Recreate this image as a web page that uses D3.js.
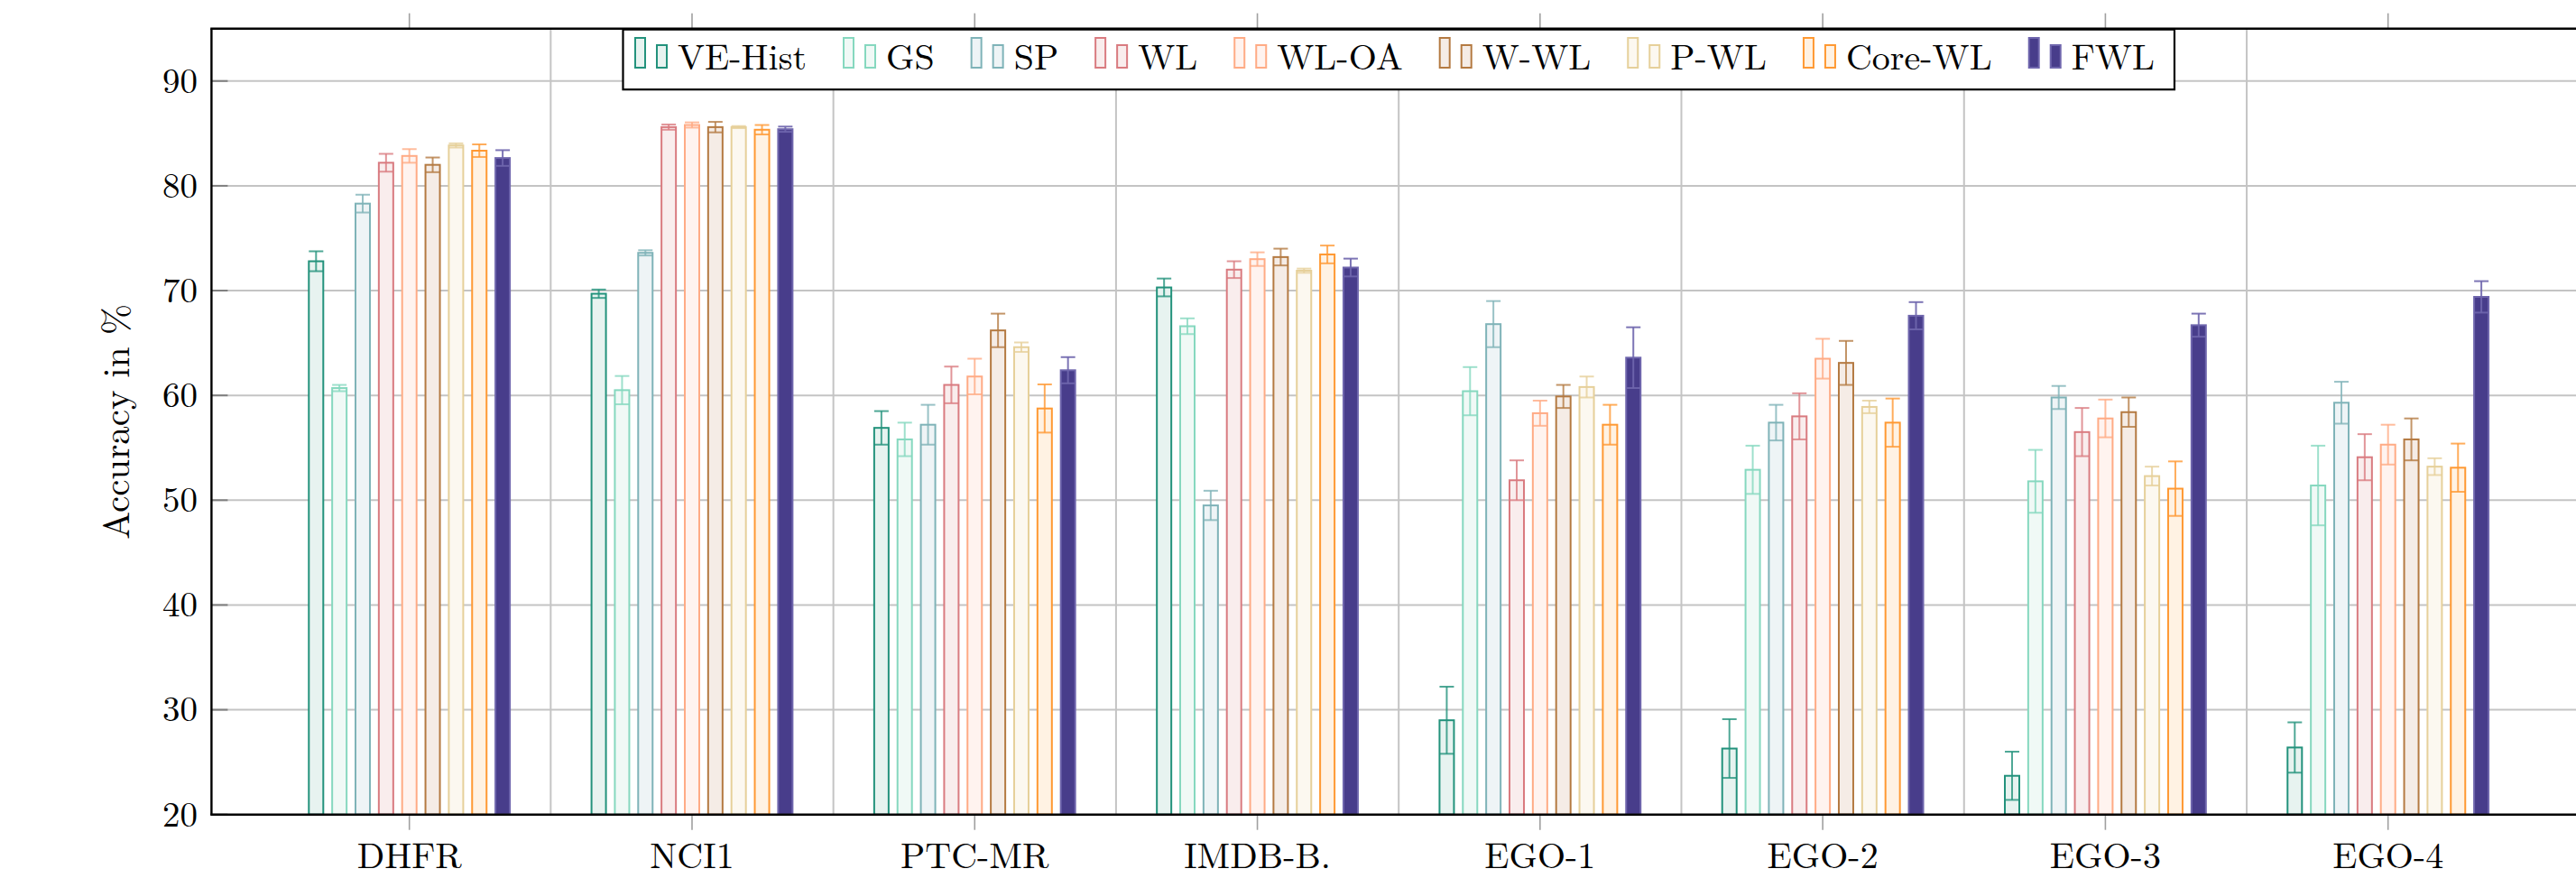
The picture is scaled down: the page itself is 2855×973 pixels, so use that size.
<!DOCTYPE html>
<html><head><meta charset="utf-8">
<script src="https://cdn.jsdelivr.net/npm/d3@7"></script>
<style>html,body{margin:0;padding:0;background:#fff;overflow:hidden} svg{display:block}</style>
</head><body>
<svg id="chart" width="2855" height="973"></svg>
<script>
// ---------------- data ----------------
const categories = ["DHFR", "NCI1", "PTC-MR", "IMDB-B.", "EGO-1", "EGO-2", "EGO-3", "EGO-4"];
const seriesNames = ["VE-Hist", "GS", "SP", "WL", "WL-OA", "W-WL", "P-WL", "Core-WL", "FWL"];

const veHist    = [72.8, 69.7, 56.9, 70.3, 29.0, 26.3, 23.7, 26.4];
const veHistErr = [0.95, 0.4, 1.6, 0.85, 3.2, 2.8, 2.3, 2.4];
const gs        = [60.7, 60.5, 55.8, 66.6, 60.4, 52.9, 51.8, 51.4];
const gsErr     = [0.3, 1.35, 1.6, 0.75, 2.3, 2.3, 3.0, 3.8];
const sp        = [78.3, 73.6, 57.2, 49.5, 66.8, 57.4, 59.8, 59.3];
const spErr     = [0.85, 0.25, 1.9, 1.4, 2.2, 1.7, 1.1, 2.0];
const wl        = [82.2, 85.6, 61.0, 72.0, 51.9, 58.0, 56.5, 54.1];
const wlErr     = [0.85, 0.25, 1.75, 0.8, 1.9, 2.2, 2.3, 2.2];
const wlOa      = [82.85, 85.8, 61.8, 73.0, 58.3, 63.5, 57.8, 55.3];
const wlOaErr   = [0.65, 0.25, 1.7, 0.65, 1.2, 1.9, 1.8, 1.9];
const wWl       = [82.0, 85.6, 66.2, 73.2, 59.9, 63.1, 58.4, 55.8];
const wWlErr    = [0.7, 0.5, 1.6, 0.8, 1.1, 2.1, 1.4, 2.0];
const pWl       = [83.85, 85.6, 64.6, 71.9, 60.8, 58.9, 52.3, 53.2];
const pWlErr    = [0.2, 0.1, 0.45, 0.2, 1.0, 0.6, 0.9, 0.8];
const coreWl    = [83.35, 85.35, 58.75, 73.45, 57.2, 57.4, 51.1, 53.1];
const coreWlErr = [0.6, 0.45, 2.3, 0.85, 1.9, 2.3, 2.6, 2.3];
const fwl       = [82.65, 85.4, 62.4, 72.2, 63.6, 67.6, 66.7, 69.4];
const fwlErr    = [0.75, 0.25, 1.25, 0.85, 2.9, 1.3, 1.1, 1.5];

const yTicks = [20, 30, 40, 50, 60, 70, 80, 90];
const yLabel = "Accuracy in %";

// ---------------- styles ----------------
const strokes = ["#23927c", "#86d8bf", "#7fb3b8", "#d97b80", "#ffab85", "#b47a42", "#e6d09a", "#ff9933", "#6f66ad"];
const fills   = ["#e7f3f0", "#f0f9f6", "#eef4f6", "#f9eded", "#fff3ef", "#f5ece6", "#fcf8f0", "#fff2e3", "#483d8b"];
const FONT = "'Latin Modern Roman','CMU Serif','Liberation Serif','Times New Roman',serif";

const means = [veHist, gs, sp, wl, wlOa, wWl, pWl, coreWl, fwl];
const errs  = [veHistErr, gsErr, spErr, wlErr, wlOaErr, wWlErr, pWlErr, coreWlErr, fwlErr];
const table = [];
seriesNames.forEach((s, j) => categories.forEach((c, i) => {
  table.push({ series: s, sj: j, cat: c, ci: i, v: means[j][i], e: errs[j][i] });
}));

// ---------------- layout ----------------
const svg = d3.select("#chart");
const L = 234.4, T = 31.7, B = 902.7, R = 2866;
const x = d3.scaleLinear().domain([-0.7, categories.length - 1 + 0.7]).range([L, R]);
const xs = d3.scalePoint().domain(seriesNames).range([-4 * 25.85, 4 * 25.85]);
const y = d3.scaleLinear().domain([20, 95]).range([B, T]);
const barW = 16;

// horizontal grid
svg.append("g").selectAll("line").data(yTicks.slice(1)).join("line")
  .attr("x1", L).attr("x2", 2855).attr("y1", d => y(d)).attr("y2", d => y(d))
  .attr("stroke", "#c4c4c4").attr("stroke-width", 2);
// vertical minor grid (between categories)
svg.append("g").selectAll("line").data(d3.range(categories.length - 1)).join("line")
  .attr("x1", d => x(d + 0.5)).attr("x2", d => x(d + 0.5)).attr("y1", T).attr("y2", B)
  .attr("stroke", "#c4c4c4").attr("stroke-width", 2);

// bars
const bars = svg.append("g");
bars.selectAll("rect").data(table).join("rect")
  .attr("x", d => x(d.ci) + xs(d.series) - barW / 2)
  .attr("width", barW)
  .attr("y", d => y(d.v))
  .attr("height", d => B - y(d.v))
  .attr("fill", d => fills[d.sj])
  .attr("stroke", d => strokes[d.sj])
  .attr("stroke-width", 2);

// error bars
const eg = svg.append("g");
const cap = 8;
table.forEach(d => {
  const cx = x(d.ci) + xs(d.series);
  const col = strokes[d.sj];
  const g = eg.append("g").attr("stroke", col).attr("stroke-width", 2).attr("stroke-opacity", d.sj === 8 ? 0.9 : 0.8);
  g.append("line").attr("x1", cx).attr("x2", cx).attr("y1", y(d.v - d.e)).attr("y2", y(d.v + d.e));
  g.append("line").attr("x1", cx - cap).attr("x2", cx + cap).attr("y1", y(d.v + d.e)).attr("y2", y(d.v + d.e));
  g.append("line").attr("x1", cx - cap).attr("x2", cx + cap).attr("y1", y(d.v - d.e)).attr("y2", y(d.v - d.e));
});

// y ticks (inward)
svg.append("g").selectAll("line").data(yTicks).join("line")
  .attr("x1", L).attr("x2", L + 18).attr("y1", d => y(d)).attr("y2", d => y(d))
  .attr("stroke", "#808080").attr("stroke-width", 2);
// x ticks (outward, top and bottom)
const xt = svg.append("g").attr("stroke", "#a0a0a0").attr("stroke-width", 1.6);
categories.forEach((c, i) => {
  xt.append("line").attr("x1", x(i)).attr("x2", x(i)).attr("y1", B).attr("y2", B + 17);
  xt.append("line").attr("x1", x(i)).attr("x2", x(i)).attr("y1", T - 17).attr("y2", T);
});

// frame
const fr = svg.append("g").attr("stroke", "#000").attr("stroke-width", 2.4).attr("fill", "none");
fr.append("line").attr("x1", L).attr("x2", L).attr("y1", T).attr("y2", B);
fr.append("line").attr("x1", L - 1.2).attr("x2", 2855).attr("y1", T).attr("y2", T);
fr.append("line").attr("x1", L - 1.2).attr("x2", 2855).attr("y1", B).attr("y2", B);

// y tick labels
svg.append("g").selectAll("text").data(yTicks).join("text")
  .attr("x", 219).attr("y", d => y(d)).attr("dy", "0.33em")
  .attr("text-anchor", "end").attr("font-family", FONT).attr("font-size", 39)
  .text(d => d);
// x labels
svg.append("g").selectAll("text").data(categories).join("text")
  .attr("x", (d, i) => x(i)).attr("y", 961.7)
  .attr("text-anchor", "middle").attr("font-family", FONT).attr("font-size", 40)
  .text(d => d);
// y axis label
svg.append("text").attr("transform", `translate(143,${(T + B) / 2}) rotate(-90)`)
  .attr("text-anchor", "middle").attr("font-family", FONT).attr("font-size", 41)
  .text(yLabel);

// legend
const lg = svg.append("g");
const box = lg.append("rect").attr("x", 690.5).attr("y", 32.7).attr("height", 66.5)
  .attr("fill", "#fff").attr("stroke", "#000").attr("stroke-width", 2.2);
let lx = 704;
seriesNames.forEach((s, j) => {
  lg.append("rect").attr("x", lx).attr("y", 42).attr("width", 11).attr("height", 33)
    .attr("fill", fills[j]).attr("stroke", strokes[j]).attr("stroke-width", 2);
  lg.append("rect").attr("x", lx + 24).attr("y", 50).attr("width", 11).attr("height", 25)
    .attr("fill", fills[j]).attr("stroke", strokes[j]).attr("stroke-width", 2);
  const t = lg.append("text").attr("x", lx + 47).attr("y", 76.5)
    .attr("font-family", FONT).attr("font-size", 40).text(s);
  const w = t.node().getComputedTextLength();
  lx = lx + 47 + w + (j < seriesNames.length - 1 ? 41 : 0);
});
box.attr("width", lx + 22 - 690.5);
</script>
</body></html>
